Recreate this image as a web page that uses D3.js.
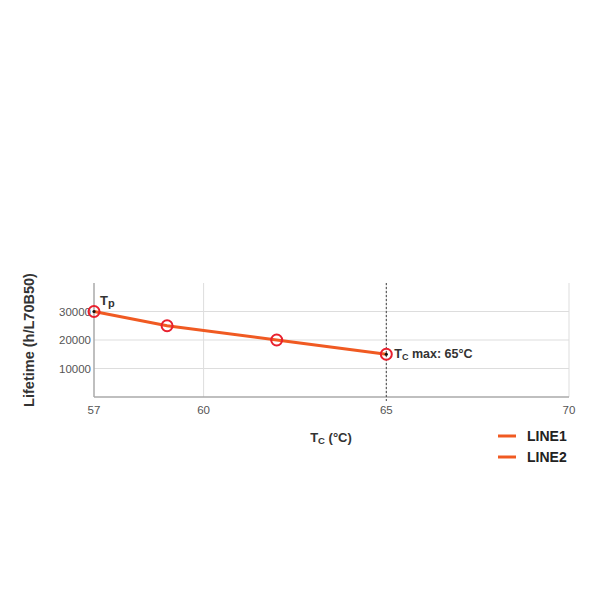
<!DOCTYPE html>
<html><head><meta charset="utf-8">
<script src="https://cdn.jsdelivr.net/npm/d3@7"></script>
<style>body{margin:0;background:#fff}text{font-family:"Liberation Sans",Arial,sans-serif}</style>
</head><body>
<svg id="c" width="600" height="600"></svg>
<script>
const xValues = [57, 59, 62, 65];
const yValues = [30000, 25000, 20000, 15000];
const xTicks = [57, 60, 65, 70];
const yTicks = [10000, 20000, 30000];
const legendLabels = ["LINE1", "LINE2"];
const colors = ["#f05a22", "#f05a22"];

const svg = d3.select("#c");
const x = d3.scaleLinear().domain([57, 70]).range([94, 569]);
const y = d3.scaleLinear().domain([0, 40000]).range([397, 283]);

svg.append("g").selectAll("line").data(xTicks.slice(1)).join("line")
  .attr("x1", d => x(d)).attr("x2", d => x(d)).attr("y1", y(40000)).attr("y2", y(0))
  .attr("stroke", "#ddd").attr("stroke-width", 1);
svg.append("g").selectAll("line").data(yTicks).join("line")
  .attr("x1", x(57)).attr("x2", x(70)).attr("y1", d => y(d)).attr("y2", d => y(d))
  .attr("stroke", "#ddd").attr("stroke-width", 1);

svg.append("line").attr("x1", x(57)).attr("x2", x(57)).attr("y1", y(40000)).attr("y2", y(0))
  .attr("stroke", "#aaa").attr("stroke-width", 1.5);
svg.append("line").attr("x1", x(57)).attr("x2", x(70)).attr("y1", y(0)).attr("y2", y(0))
  .attr("stroke", "#aaa").attr("stroke-width", 1.5);

svg.append("g").selectAll("text").data(xTicks).join("text")
  .attr("x", d => x(d)).attr("y", 414).attr("text-anchor", "middle")
  .attr("font-size", 11.5).attr("fill", "#555").text(d => d);
svg.append("g").selectAll("text").data(yTicks).join("text")
  .attr("x", x(57) - 3).attr("y", d => y(d) + 4).attr("text-anchor", "end")
  .attr("font-size", 11.5).attr("fill", "#555").text(d => d);

svg.append("line").attr("x1", x(65)).attr("x2", x(65)).attr("y1", y(40000)).attr("y2", y(0) + 6)
  .attr("stroke", "#444").attr("stroke-width", 1).attr("stroke-dasharray", "2,2");

const pts = xValues.map((d, i) => [d, yValues[i]]);
svg.append("path").datum(pts)
  .attr("d", d3.line().x(d => x(d[0])).y(d => y(d[1])))
  .attr("fill", "none").attr("stroke", colors[0]).attr("stroke-width", 3);

svg.append("g").selectAll("circle").data(pts).join("circle")
  .attr("cx", d => x(d[0])).attr("cy", d => y(d[1])).attr("r", 5.5)
  .attr("fill", "none").attr("stroke", "#e8202e").attr("stroke-width", 2);
svg.append("g").selectAll("circle").data([pts[0], pts[3]]).join("circle")
  .attr("cx", d => x(d[0])).attr("cy", d => y(d[1])).attr("r", 1.6).attr("fill", "#111");

const tp = svg.append("text").attr("x", x(57) + 6).attr("y", y(30000) - 7)
  .attr("font-size", 13).attr("font-weight", "bold").attr("fill", "#333");
tp.append("tspan").text("T");
tp.append("tspan").attr("font-size", 11).attr("dy", 2).text("p");

const tc = svg.append("text").attr("x", x(65) + 8).attr("y", y(15000) + 4)
  .attr("font-size", 12.5).attr("font-weight", "bold").attr("fill", "#333");
tc.append("tspan").text("T");
tc.append("tspan").attr("font-size", 9).attr("dy", 2).text("C");
tc.append("tspan").attr("dy", -2).text(" max: 65°C");

const xt = svg.append("text").attr("x", 331).attr("y", 442).attr("text-anchor", "middle")
  .attr("font-size", 13).attr("font-weight", "bold").attr("fill", "#333");
xt.append("tspan").text("T");
xt.append("tspan").attr("font-size", 9.5).attr("dy", 2).text("C");
xt.append("tspan").attr("dy", -2).text(" (°C)");

svg.append("text").attr("transform", "translate(34,340) rotate(-90)").attr("text-anchor", "middle")
  .attr("font-size", 14.5).attr("font-weight", "bold").attr("fill", "#333")
  .text("Lifetime (h/L70B50)");

const lg = svg.append("g").selectAll("g").data(legendLabels).join("g")
  .attr("transform", (d, i) => `translate(498,${436 + i * 21})`);
lg.append("line").attr("x1", 0).attr("x2", 18).attr("y1", 0).attr("y2", 0)
  .attr("stroke", (d, i) => colors[i]).attr("stroke-width", 3);
lg.append("text").attr("x", 29).attr("y", 5).attr("font-size", 14).attr("font-weight", "bold")
  .attr("fill", "#222").text(d => d);
</script>
</body></html>
